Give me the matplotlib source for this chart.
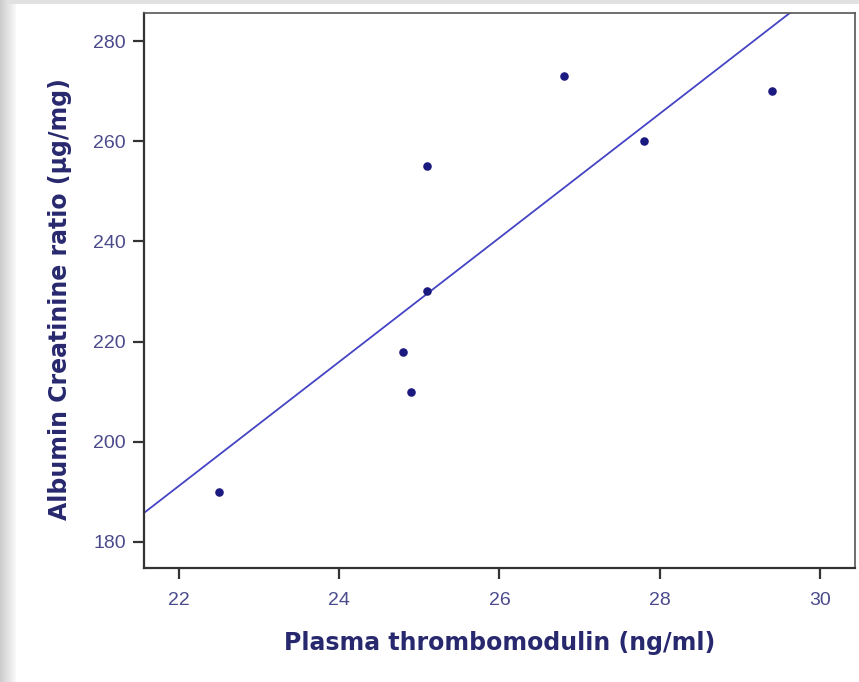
import numpy as np
import matplotlib
matplotlib.use('Agg')
import matplotlib.pyplot as plt

# data
tm = [22.5, 24.8, 24.9, 25.1, 25.1, 26.8, 27.8, 29.4]
acr = [190, 218, 210, 230, 255, 273, 260, 270]

xticks = [22, 24, 26, 28, 30]
yticks = [180, 200, 220, 240, 260, 280]

pt_col = '#1a1a80'
line_col = '#4444c4'
tick_col = '#4a4a8c'
lab_col = '#28286e'

fig = plt.figure(figsize=(8.59, 6.82), dpi=100)

# grey edge shading of the screenshot
bg = fig.add_axes([0, 0, 1, 1], zorder=-5)
grad = np.ones((682, 859))
grad[:, :16] = np.linspace(0.80, 0.97, 16)
grad[:4, :] = np.minimum(grad[:4, :], 0.88)
bg.imshow(grad, cmap='gray', vmin=0, vmax=1, aspect='auto', extent=[0, 1, 0, 1])
bg.axis('off')

ax = fig.add_axes([0.1676, 0.1672, 0.9953 - 0.1676, 0.981 - 0.1672])

ax.scatter(tm, acr, s=38, color=pt_col, zorder=3, linewidths=0)

# linear fit
k, b = np.polyfit(tm, acr, 1)
xl = np.array([21.56, 30.44])
ax.plot(xl, k * xl + b, color=line_col, lw=1.3, zorder=2)

ax.set_xlim(21.56, 30.44)
ax.set_ylim(174.8, 285.6)
ax.set_xticks(xticks)
ax.set_yticks(yticks)
ax.tick_params(direction='out', length=8, width=1.6, color='#333333',
               labelsize=14, labelcolor=tick_col, pad=5)
ax.tick_params(axis='x', pad=9)
for lab in ax.get_xticklabels() + ax.get_yticklabels():
    lab.set_family('Liberation Sans')

for s in ['left', 'bottom']:
    ax.spines[s].set_linewidth(1.6)
    ax.spines[s].set_color('#333333')
for s in ['top', 'right']:
    ax.spines[s].set_linewidth(1.2)
    ax.spines[s].set_color('#555555')

ax.set_xlabel('Plasma thrombomodulin (ng/ml)', fontsize=17, fontweight='bold',
              color=lab_col, labelpad=16)
ax.set_ylabel('Albumin Creatinine ratio (µg/mg)', fontsize=17, fontweight='bold',
              color=lab_col)
ax.yaxis.set_label_coords(-0.101, 0.485)

fig.savefig('out.png', dpi=100)
